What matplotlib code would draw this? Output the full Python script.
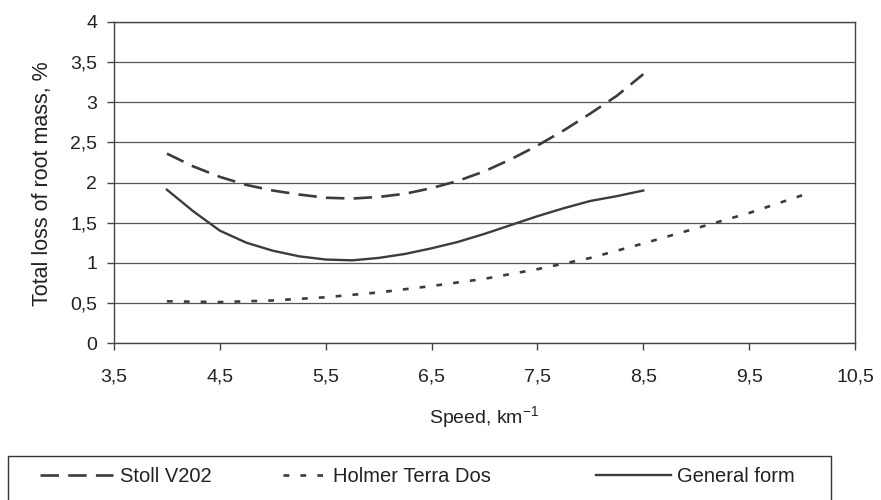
import matplotlib
matplotlib.use("Agg")
import matplotlib.pyplot as plt
from matplotlib.patches import Rectangle

plt.rcParams['font.family'] = ['Liberation Sans', 'DejaVu Sans']

# Data
stoll_x = [4.0, 4.25, 4.5, 4.75, 5.0, 5.25, 5.5, 5.75, 6.0, 6.25, 6.5, 6.75,
           7.0, 7.25, 7.5, 7.75, 8.0, 8.25, 8.5]
stoll_y = [2.36, 2.20, 2.07, 1.97, 1.90, 1.85, 1.81, 1.80, 1.82, 1.86, 1.93, 2.02,
           2.14, 2.29, 2.46, 2.65, 2.86, 3.08, 3.35]

holmer_x = [4.0, 4.5, 5.0, 5.5, 6.0, 6.5, 7.0, 7.5, 8.0, 8.5, 9.0, 9.5, 10.0]
holmer_y = [0.52, 0.51, 0.53, 0.57, 0.63, 0.71, 0.80, 0.92, 1.06, 1.24, 1.43, 1.62, 1.84]

general_x = [4.0, 4.25, 4.5, 4.75, 5.0, 5.25, 5.5, 5.75, 6.0, 6.25, 6.5, 6.75,
             7.0, 7.25, 7.5, 7.75, 8.0, 8.25, 8.5]
general_y = [1.91, 1.64, 1.40, 1.25, 1.15, 1.08, 1.04, 1.03, 1.06, 1.11, 1.18, 1.26,
             1.36, 1.47, 1.58, 1.68, 1.77, 1.83, 1.90]

series_names = ["Stoll V202", "Holmer Terra Dos", "General form"]
x_ticks = [3.5, 4.5, 5.5, 6.5, 7.5, 8.5, 9.5, 10.5]
x_tick_labels = ["3,5", "4,5", "5,5", "6,5", "7,5", "8,5", "9,5", "10,5"]
y_ticks = [0, 0.5, 1, 1.5, 2, 2.5, 3, 3.5, 4]
y_tick_labels = ["0", "0,5", "1", "1,5", "2", "2,5", "3", "3,5", "4"]

W, H = 881, 500
fig = plt.figure(figsize=(W / 100, H / 100), dpi=100)
ax = fig.add_axes([114 / W, 1 - 343 / H, (855 - 114) / W, (343 - 22) / H])

line_col = '#3c3c3c'
l1, = ax.plot(stoll_x, stoll_y, color=line_col, lw=1.9, linestyle=(0, (7, 3.5)),
              label=series_names[0])
l2, = ax.plot(holmer_x, holmer_y, color=line_col, lw=1.9, linestyle=(0, (2.2, 4.2)),
              label=series_names[1])
l3, = ax.plot(general_x, general_y, color=line_col, lw=1.7, linestyle='-',
              label=series_names[2])

ax.set_xlim(3.5, 10.5)
ax.set_ylim(0, 4)
ax.set_xticks(x_ticks)
ax.set_xticklabels(x_tick_labels)
ax.set_yticks(y_ticks)
ax.set_yticklabels(y_tick_labels)
ax.yaxis.grid(True, color='#555555', lw=0.9)
ax.set_axisbelow(True)
for s in ax.spines.values():
    s.set_color('#444444')
    s.set_linewidth(1.0)
ax.tick_params(axis='x', direction='out', length=5, width=1, color='#444444',
               labelsize=14, labelcolor='#222222', pad=13)
ax.tick_params(axis='y', direction='out', length=5, width=1, color='#444444',
               labelsize=14, labelcolor='#222222', pad=7)

ax.set_xlabel("Speed, km$^{\\mathregular{-1}}$", fontsize=14, color='#222222')
ax.xaxis.set_label_coords(0.5, -0.19)
ax.set_ylabel("Total loss of root mass, %", fontsize=15.5, color='#222222')
ax.yaxis.set_label_coords(-0.082, 0.495)

# legend frame
fig.patches.append(Rectangle((8 / W, -0.05), (831 - 8) / W, 0.05 + (500 - 456) / H,
                             transform=fig.transFigure, fill=False,
                             edgecolor='#333333', lw=1.0))

legy = (H - 477) / H
specs = [(l1, 40, 3.6, 0.35), (l2, 283, 2.35, 0.15), (l3, 596, 3.7, 0.3)]
for h, xs, hl, tp in specs:
    fig.legend([h], [h.get_label()], loc='center left',
               bbox_to_anchor=(xs / W, legy), bbox_transform=fig.transFigure,
               frameon=False, fontsize=14.5, handlelength=hl, handletextpad=tp,
               borderpad=0, borderaxespad=0, labelcolor='#222222')

fig.savefig("out.png", dpi=100, facecolor='white')
